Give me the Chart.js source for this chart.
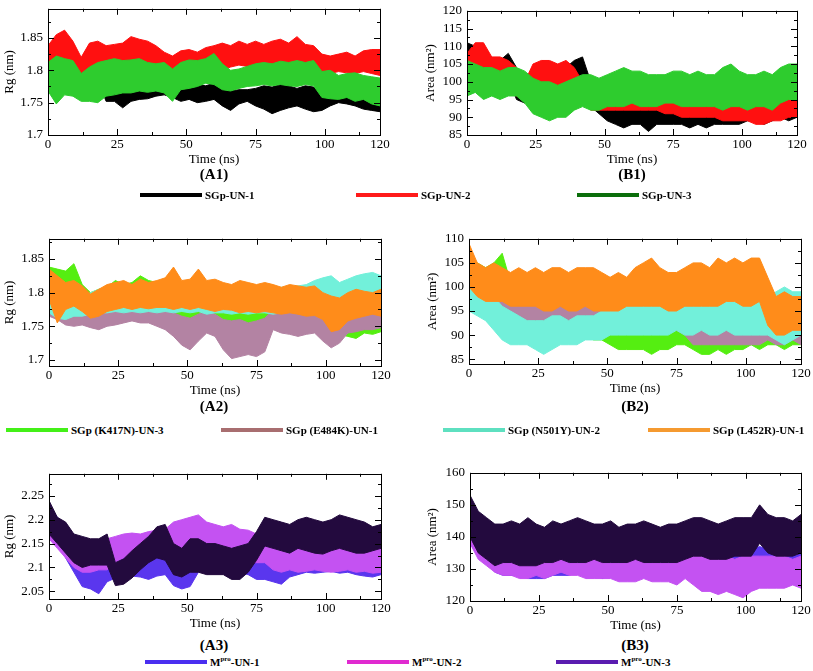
<!DOCTYPE html>
<html>
<head>
<meta charset="utf-8">
<script src="https://cdn.jsdelivr.net/npm/chart.js@4/dist/chart.umd.min.js"></script>
<style>
  body { margin: 0; width: 813px; height: 671px; background: #fff; position: relative; overflow: hidden; font-family: "Liberation Serif", serif; color: #000; }
  canvas { position: absolute; }
  .tag { position: absolute; font-weight: bold; font-size: 15px; line-height: 18px; transform: translateX(-50%); }
  .key { position: absolute; height: 14px; display: flex; align-items: center; font-weight: bold; font-size: 11px; white-space: nowrap; }
  .key i { display: inline-block; width: 62px; height: 4px; margin-right: 3px; }
  .key sup { font-size: 7px; line-height: 0; }
</style>
</head>
<body>
<script>
// temps (ns), un point toutes les 3 ns
const timeNs = [0,3,6,9,12,15,18,21,24,27,30,33,36,39,42,45,48,51,54,57,60,63,66,69,72,75,78,81,84,87,90,93,96,99,102,105,108,111,114,117,120];
const xTickVals = [0, 25, 50, 75, 100, 120];

// graduations des axes Y
const a1YTicks = [1.7, 1.75, 1.8, 1.85];
const b1YTicks = [85, 90, 95, 100, 105, 110, 115, 120];
const a2YTicks = [1.7, 1.75, 1.8, 1.85];
const b2YTicks = [85, 90, 95, 100, 105, 110];
const a3YTicks = [2.05, 2.1, 2.15, 2.2, 2.25];
const b3YTicks = [120, 130, 140, 150, 160];

// (A1) Rg - enveloppe haute / basse de chaque trajectoire
const a1Un1Hi = [1.800,1.805,1.800,1.798,1.795,1.808,1.812,1.788,1.785,1.783,1.786,1.784,1.788,1.786,1.790,1.780,1.782,1.780,1.778,1.776,1.780,1.772,1.768,1.770,1.770,1.772,1.776,1.774,1.778,1.776,1.772,1.776,1.774,1.766,1.766,1.764,1.768,1.764,1.766,1.764,1.762];
const a1Un1Lo = [1.775,1.772,1.778,1.776,1.778,1.790,1.785,1.752,1.752,1.742,1.752,1.755,1.756,1.760,1.762,1.758,1.752,1.755,1.750,1.752,1.755,1.745,1.738,1.748,1.752,1.745,1.740,1.733,1.738,1.742,1.745,1.740,1.736,1.738,1.745,1.750,1.748,1.745,1.740,1.738,1.736];
const a1Un2Hi = [1.838,1.855,1.862,1.845,1.820,1.842,1.845,1.838,1.840,1.842,1.852,1.848,1.845,1.838,1.828,1.822,1.830,1.832,1.828,1.835,1.838,1.842,1.838,1.845,1.840,1.845,1.840,1.845,1.848,1.842,1.852,1.840,1.838,1.825,1.822,1.825,1.828,1.822,1.830,1.832,1.832];
const a1Un2Lo = [1.800,1.805,1.802,1.800,1.790,1.798,1.800,1.805,1.800,1.802,1.806,1.805,1.802,1.798,1.790,1.785,1.795,1.800,1.802,1.805,1.806,1.800,1.805,1.808,1.806,1.808,1.805,1.806,1.808,1.806,1.808,1.806,1.800,1.795,1.795,1.798,1.796,1.795,1.798,1.795,1.792];
const a1Un3Hi = [1.812,1.822,1.818,1.815,1.795,1.805,1.812,1.815,1.818,1.815,1.816,1.818,1.812,1.810,1.812,1.802,1.812,1.816,1.815,1.818,1.826,1.810,1.800,1.802,1.806,1.810,1.812,1.810,1.814,1.812,1.815,1.812,1.815,1.798,1.800,1.792,1.795,1.796,1.792,1.790,1.788];
const a1Un3Lo = [1.768,1.748,1.762,1.760,1.752,1.752,1.750,1.760,1.762,1.765,1.765,1.768,1.766,1.768,1.765,1.752,1.770,1.772,1.775,1.780,1.778,1.770,1.768,1.772,1.775,1.776,1.778,1.776,1.778,1.776,1.775,1.778,1.776,1.758,1.756,1.755,1.758,1.752,1.755,1.748,1.745];

// (B1) Area
const b1Un1Hi = [111,110,108,106,106,108,104,100,101,102,103,104,104,106,107,100,98,95,95,95,95,95,94,95,95,95,95,94,94,94,94,93,94,94,93,94,93,94,94,94,95];
const b1Un1Lo = [104,102,101,100,100,101,95,94,96,97,98,99,99,100,99,93,91,89,88,87,88,88,86,88,88,88,88,87,88,87,88,88,88,88,89,89,88,89,90,89,90];
const b1Un2Hi = [108,111,111,107,107,106,104,100,105,106,106,105,106,104,100,98,97,96,96,96,97,97,96,96,96,97,96,97,97,96,96,97,97,96,97,96,96,97,96,98,98];
const b1Un2Lo = [102,101,100,99,98,98,96,96,98,98,98,99,98,98,96,92,92,92,92,92,92,92,92,92,91,91,90,90,90,90,90,89,89,89,89,88,88,89,89,90,90];
const b1Un3Hi = [106,105,104,104,103,104,104,103,101,100,100,99,100,101,102,102,101,102,103,104,103,103,102,102,102,103,103,102,103,102,102,104,105,103,102,102,103,102,104,105,105];
const b1Un3Lo = [96,97,95,96,95,96,96,94,91,90,89,90,90,92,93,92,92,93,93,93,94,93,93,93,94,94,93,93,93,93,93,92,93,93,92,93,93,92,94,95,95];

// (A2) Rg des variants
const a2K417nHi = [1.838,1.835,1.832,1.843,1.812,1.800,1.805,1.808,1.818,1.812,1.815,1.825,1.818,1.815,1.812,1.815,1.810,1.810,1.808,1.806,1.805,1.800,1.802,1.798,1.800,1.795,1.790,1.800,1.802,1.800,1.795,1.792,1.790,1.788,1.785,1.780,1.778,1.780,1.782,1.778,1.775];
const a2K417nLo = [1.775,1.770,1.775,1.772,1.755,1.750,1.752,1.758,1.760,1.758,1.762,1.760,1.758,1.762,1.765,1.762,1.765,1.762,1.760,1.762,1.760,1.758,1.755,1.752,1.755,1.748,1.745,1.760,1.762,1.760,1.758,1.752,1.750,1.745,1.748,1.738,1.735,1.732,1.740,1.738,1.742];
const a2E484kHi = [1.800,1.795,1.782,1.778,1.780,1.778,1.778,1.780,1.778,1.780,1.782,1.780,1.780,1.778,1.776,1.770,1.765,1.762,1.768,1.772,1.768,1.760,1.758,1.760,1.755,1.758,1.762,1.775,1.772,1.770,1.768,1.768,1.770,1.765,1.760,1.762,1.772,1.775,1.775,1.778,1.778];
const a2E484kLo = [1.765,1.760,1.752,1.750,1.752,1.748,1.745,1.750,1.752,1.755,1.758,1.755,1.755,1.750,1.745,1.735,1.722,1.715,1.728,1.740,1.735,1.715,1.702,1.705,1.708,1.705,1.712,1.745,1.740,1.738,1.735,1.738,1.740,1.728,1.718,1.725,1.740,1.742,1.745,1.745,1.748];
const a2N501yHi = [1.822,1.815,1.800,1.798,1.795,1.800,1.805,1.808,1.810,1.808,1.808,1.810,1.808,1.810,1.810,1.808,1.810,1.808,1.808,1.810,1.808,1.808,1.806,1.808,1.805,1.808,1.806,1.806,1.808,1.808,1.810,1.812,1.818,1.822,1.825,1.815,1.820,1.825,1.828,1.830,1.825];
const a2N501yLo = [1.770,1.762,1.760,1.765,1.765,1.768,1.770,1.770,1.772,1.770,1.772,1.770,1.772,1.770,1.772,1.770,1.772,1.770,1.772,1.768,1.770,1.770,1.768,1.770,1.768,1.770,1.770,1.768,1.770,1.772,1.772,1.775,1.780,1.785,1.786,1.785,1.788,1.790,1.792,1.790,1.788];
const a2L452rHi = [1.835,1.825,1.815,1.818,1.810,1.798,1.805,1.812,1.815,1.818,1.812,1.820,1.815,1.818,1.822,1.838,1.818,1.820,1.835,1.818,1.820,1.815,1.812,1.818,1.815,1.812,1.815,1.812,1.808,1.812,1.810,1.808,1.810,1.800,1.795,1.792,1.800,1.805,1.802,1.800,1.805];
const a2L452rLo = [1.790,1.755,1.775,1.780,1.772,1.762,1.765,1.772,1.775,1.778,1.775,1.778,1.776,1.778,1.778,1.775,1.778,1.775,1.778,1.775,1.772,1.775,1.774,1.770,1.772,1.770,1.772,1.770,1.768,1.770,1.768,1.765,1.766,1.760,1.742,1.745,1.758,1.762,1.765,1.768,1.765];

// (B2) Area des variants
const b2K417nHi = [106,105,104,105,107,101,99,98,97,98,97,98,97,98,97,97,97,95,95,94,95,95,94,95,94,95,94,94,93,93,94,94,93,94,95,95,96,96,95,96,95];
const b2K417nLo = [95,96,95,95,94,91,90,89,89,88,89,89,89,89,90,89,89,88,87,87,87,87,86,87,87,88,88,87,86,86,87,86,87,87,88,87,88,88,87,88,88];
const b2E484kHi = [102,100,99,99,98,99,99,99,99,100,99,99,100,99,100,99,99,98,98,98,99,98,98,97,97,97,96,94,94,93,94,94,93,94,94,96,98,97,96,97,96];
const b2E484kLo = [95,95,95,94,94,93,93,93,93,93,93,93,93,93,94,93,93,92,92,92,92,92,91,91,91,91,90,88,88,88,88,88,88,88,88,88,89,88,88,89,88];
const b2N501yHi = [101,100,98,98,96,95,94,93,93,93,94,94,93,94,94,94,95,97,97,96,97,97,96,97,97,96,97,96,97,97,98,98,97,98,97,97,98,99,100,99,99];
const b2N501yLo = [95,94,93,91,89,88,88,88,87,86,87,88,88,88,89,89,89,90,90,90,90,90,90,90,90,91,90,90,91,90,90,91,90,90,90,90,90,89,88,89,90];
const b2L452rHi = [109,105,104,105,104,103,104,103,104,103,104,104,103,104,104,104,103,102,103,102,104,105,106,104,103,103,104,105,105,104,106,105,106,105,106,106,102,98,99,98,98];
const b2L452rLo = [100,98,97,97,97,96,96,96,96,95,95,96,95,95,96,95,95,95,95,96,96,96,96,96,95,95,96,96,96,96,96,97,97,96,96,97,92,90,90,91,91];

// (A3) Rg Mpro
const a3Un1Hi = [2.232,2.205,2.190,2.160,2.130,2.120,2.115,2.135,2.140,2.130,2.122,2.120,2.112,2.120,2.122,2.112,2.102,2.106,2.120,2.125,2.130,2.128,2.130,2.132,2.130,2.130,2.115,2.112,2.110,2.120,2.128,2.130,2.128,2.130,2.128,2.132,2.130,2.128,2.130,2.132,2.130];
const a3Un1Lo = [2.160,2.150,2.120,2.090,2.060,2.055,2.045,2.070,2.078,2.080,2.082,2.080,2.075,2.082,2.085,2.062,2.055,2.060,2.090,2.092,2.090,2.095,2.092,2.090,2.085,2.075,2.075,2.070,2.065,2.080,2.085,2.090,2.088,2.090,2.092,2.088,2.090,2.085,2.082,2.080,2.085];
const a3Un2Hi = [2.220,2.200,2.175,2.160,2.150,2.150,2.145,2.160,2.165,2.170,2.172,2.170,2.175,2.178,2.180,2.195,2.200,2.205,2.210,2.195,2.190,2.185,2.190,2.180,2.178,2.170,2.160,2.160,2.155,2.152,2.150,2.150,2.152,2.148,2.150,2.152,2.150,2.148,2.150,2.148,2.150];
const a3Un2Lo = [2.160,2.140,2.120,2.100,2.090,2.090,2.095,2.095,2.110,2.120,2.120,2.115,2.120,2.125,2.130,2.130,2.130,2.135,2.130,2.130,2.125,2.128,2.120,2.115,2.110,2.110,2.110,2.095,2.090,2.095,2.090,2.092,2.095,2.092,2.090,2.092,2.095,2.090,2.092,2.088,2.090];
const a3Un3Hi = [2.240,2.205,2.195,2.170,2.165,2.160,2.160,2.170,2.110,2.118,2.135,2.150,2.165,2.185,2.190,2.150,2.140,2.160,2.160,2.150,2.150,2.145,2.140,2.145,2.150,2.175,2.205,2.200,2.195,2.190,2.200,2.205,2.200,2.195,2.200,2.210,2.205,2.200,2.195,2.185,2.190];
const a3Un3Lo = [2.170,2.150,2.130,2.110,2.100,2.105,2.105,2.105,2.062,2.065,2.078,2.095,2.110,2.120,2.115,2.085,2.080,2.090,2.090,2.085,2.085,2.085,2.075,2.075,2.090,2.115,2.145,2.140,2.135,2.130,2.140,2.135,2.130,2.128,2.135,2.140,2.135,2.130,2.130,2.135,2.140];

// (B3) Area Mpro
const b3Un1Hi = [152,146,142,142,141,141,142,140,139,140,140,139,139,138,138,138,138,137,137,137,137,136,136,136,137,137,137,137,137,136,136,137,136,137,136,137,136,137,137,136,137];
const b3Un1Lo = [138,134,132,129,128,128,128,127,127,127,128,128,128,129,128,128,127,128,128,128,128,128,128,129,130,130,130,131,130,130,130,131,130,131,130,131,130,131,130,131,130];
const b3Un2Hi = [150,145,140,138,137,138,137,137,136,137,137,138,136,136,136,136,135,135,135,134,135,134,135,134,134,134,138,135,134,134,134,134,133,134,134,134,134,134,134,133,134];
const b3Un2Lo = [138,133,131,129,128,128,127,127,128,127,128,129,128,128,127,127,127,127,126,126,126,127,126,126,126,125,127,125,123,123,122,123,122,121,123,124,124,124,124,125,124];
const b3Un3Hi = [153,148,146,144,144,145,144,146,144,143,145,144,145,146,145,144,144,145,143,144,144,145,144,143,144,144,145,146,146,145,144,145,146,146,146,150,147,146,146,145,147];
const b3Un3Lo = [140,135,133,131,132,132,131,131,131,132,132,133,132,132,132,133,132,132,132,132,133,132,132,132,132,132,133,134,134,133,133,133,134,134,134,138,135,134,134,134,135];

// couleurs des courbes
const cBlack = '#000000', cRed = '#ff1010', cGreen = '#2ecc2e';
const cLime = '#55ee11', cMauve = '#b383a3', cAqua = '#72f0da', cOrange = '#ff8c1a';
const cBlue = '#5a36ee', cViolet = '#c452f2', cDark = '#230a3e';

Chart.defaults.font.family = '"Liberation Serif", "Times New Roman", serif';
Chart.defaults.font.size = 13;
Chart.defaults.color = '#000';

// Cadre + graduations vers l'intérieur (style xmgrace)
function tickSet(vals, min, max) {
    const step = vals[1] - vals[0];
    const out = vals.map(v => ({ v: v, major: true }));
    for (let k = 1; vals[0] + k * step / 2 <= max + 1e-9; k += 2) {
        out.push({ v: vals[0] + k * step / 2, major: false });
    }
    return out.filter(t => t.v >= min - 1e-9 && t.v <= max + 1e-9);
}

const frameTicks = {
    id: 'frameTicks',
    afterDatasetsDraw(chart) {
        const { ctx, chartArea: a, scales: { x, y } } = chart;
        ctx.save();
        ctx.strokeStyle = '#000';
        ctx.lineWidth = 1;
        ctx.beginPath();
        tickSet(xTickVals, x.min, x.max).forEach(t => {
            const px = Math.round(x.getPixelForValue(t.v)) + 0.5;
            const len = t.major ? 6 : 3;
            ctx.moveTo(px, a.bottom); ctx.lineTo(px, a.bottom - len);
            ctx.moveTo(px, a.top); ctx.lineTo(px, a.top + len);
        });
        tickSet(chart.options.yMajor, y.min, y.max).forEach(t => {
            const py = Math.round(y.getPixelForValue(t.v)) + 0.5;
            const len = t.major ? 6 : 3;
            ctx.moveTo(a.left, py); ctx.lineTo(a.left + len, py);
            ctx.moveTo(a.right, py); ctx.lineTo(a.right - len, py);
        });
        ctx.stroke();
        ctx.strokeRect(Math.round(a.left) + 0.5, Math.round(a.top) + 0.5, Math.round(a.width), Math.round(a.height));
        ctx.restore();
    }
};

// Positions des six panneaux
const panels = [
    { left: 0,   top: -4,  yW: 48, plotW: 332, plotH: 131, yTitle: 'Rg (nm)',    yMin: 1.7,   yMax: 1.895, yTicks: a1YTicks,
      series: [[a1Un1Hi, a1Un1Lo, cBlack], [a1Un2Hi, a1Un2Lo, cRed], [a1Un3Hi, a1Un3Lo, cGreen]] },
    { left: 421, top: -2,  yW: 46, plotW: 330, plotH: 129, yTitle: 'Area (nm\u00B2)', yMin: 85, yMax: 120, yTicks: b1YTicks,
      series: [[b1Un1Hi, b1Un1Lo, cBlack], [b1Un2Hi, b1Un2Lo, cRed], [b1Un3Hi, b1Un3Lo, cGreen]] },
    { left: 0,   top: 226, yW: 49, plotW: 332, plotH: 132, yTitle: 'Rg (nm)',    yMin: 1.691, yMax: 1.88, yTicks: a2YTicks,
      series: [[a2K417nHi, a2K417nLo, cLime], [a2E484kHi, a2E484kLo, cMauve], [a2N501yHi, a2N501yLo, cAqua], [a2L452rHi, a2L452rLo, cOrange]] },
    { left: 423, top: 226, yW: 46, plotW: 332, plotH: 130, yTitle: 'Area (nm\u00B2)', yMin: 84, yMax: 110, yTicks: b2YTicks,
      series: [[b2K417nHi, b2K417nLo, cLime], [b2E484kHi, b2E484kLo, cMauve], [b2N501yHi, b2N501yLo, cAqua], [b2L452rHi, b2L452rLo, cOrange]] },
    { left: 0,   top: 461, yW: 49, plotW: 332, plotH: 130, yTitle: 'Rg (nm)',    yMin: 2.034, yMax: 2.296, yTicks: a3YTicks,
      series: [[a3Un1Hi, a3Un1Lo, cBlue], [a3Un2Hi, a3Un2Lo, cViolet], [a3Un3Hi, a3Un3Lo, cDark]] },
    { left: 423, top: 460, yW: 47, plotW: 331, plotH: 133, yTitle: 'Area (nm\u00B2)', yMin: 120, yMax: 160, yTicks: b3YTicks,
      series: [[b3Un1Hi, b3Un1Lo, cBlue], [b3Un2Hi, b3Un2Lo, cViolet], [b3Un3Hi, b3Un3Lo, cDark]] }
];

panels.forEach(p => {
    const cv = document.createElement('canvas');
    const w = p.yW + p.plotW + 12, h = 8 + p.plotH + 32;
    cv.width = w; cv.height = h;
    cv.style.left = p.left + 'px'; cv.style.top = p.top + 'px';
    cv.style.width = w + 'px'; cv.style.height = h + 'px';
    document.body.appendChild(cv);

    // chaque série = bande entre enveloppe basse et haute; la dernière est dessinée au-dessus
    const datasets = [];
    const n = p.series.length;
    p.series.forEach((s, i) => {
        const [hi, lo, col] = s;
        datasets.push({ data: timeNs.map((t, k) => ({ x: t, y: lo[k] })), borderColor: col, borderWidth: 1, fill: false, order: n - i });
        datasets.push({ data: timeNs.map((t, k) => ({ x: t, y: hi[k] })), borderColor: col, backgroundColor: col, borderWidth: 1, fill: '-1', order: n - i });
    });

    new Chart(cv, {
        type: 'line',
        data: { datasets: datasets },
        options: {
            responsive: false,
            animation: false,
            yMajor: p.yTicks,
            layout: { padding: { top: 8, right: 12, bottom: 0, left: 0 } },
            elements: { point: { radius: 0 }, line: { tension: 0 } },
            plugins: { legend: { display: false }, tooltip: { enabled: false } },
            scales: {
                x: {
                    type: 'linear', min: 0, max: 120,
                    afterBuildTicks: sc => { sc.ticks = xTickVals.map(v => ({ value: v })); },
                    afterFit: sc => { sc.height = 32; },
                    grid: { display: false, drawTicks: false },
                    border: { display: false },
                    ticks: { padding: 2, maxRotation: 0, autoSkip: false, callback: v => String(v) },
                    title: { display: true, text: 'Time (ns)', padding: { top: 0, bottom: 0 } }
                },
                y: {
                    min: p.yMin, max: p.yMax,
                    afterBuildTicks: sc => { sc.ticks = p.yTicks.map(v => ({ value: v })); },
                    afterFit: sc => { sc.width = p.yW; },
                    grid: { display: false, drawTicks: false },
                    border: { display: false },
                    ticks: { padding: 5, autoSkip: false, callback: v => String(v) },
                    title: { display: true, text: p.yTitle, padding: { top: 2, bottom: 0 } }
                }
            }
        },
        plugins: [frameTicks]
    });
});

// étiquettes (A1) ... (B3)
const panelTags = ['(A1)', '(B1)', '(A2)', '(B2)', '(A3)', '(B3)'];
const tagX = [214, 632, 214, 635, 214, 635];
const tagY = [174, 174, 406, 406, 645, 645];
panelTags.forEach((t, i) => {
    const d = document.createElement('div');
    d.className = 'tag';
    d.textContent = t;
    d.style.left = tagX[i] + 'px';
    d.style.top = (tagY[i] - 9) + 'px';
    document.body.appendChild(d);
});

// légendes communes
const legendRows = [
    { y: 195, items: [['SGp-UN-1', '#000000', 140], ['SGp-UN-2', '#ff1a1a', 356], ['SGp-UN-3', '#0b6e0b', 577]] },
    { y: 430, items: [['SGp (K417N)-UN-3', '#44f018', 6], ['SGp (E484K)-UN-1', '#a86e70', 221], ['SGp (N501Y)-UN-2', '#5ee0c0', 443], ['SGp (L452R)-UN-1', '#f59a30', 648]] },
    { y: 662, items: [['M<sup>pro</sup>-UN-1', '#4a2ef0', 145], ['M<sup>pro</sup>-UN-2', '#e02ad0', 347], ['M<sup>pro</sup>-UN-3', '#5a1cb0', 556]] }
];
legendRows.forEach(row => {
    row.items.forEach(([label, col, x]) => {
        const d = document.createElement('div');
        d.className = 'key';
        d.style.left = x + 'px';
        d.style.top = (row.y - 7) + 'px';
        d.innerHTML = '<i style="background:' + col + '"></i><span>' + label + '</span>';
        document.body.appendChild(d);
    });
});
</script>
</body>
</html>
